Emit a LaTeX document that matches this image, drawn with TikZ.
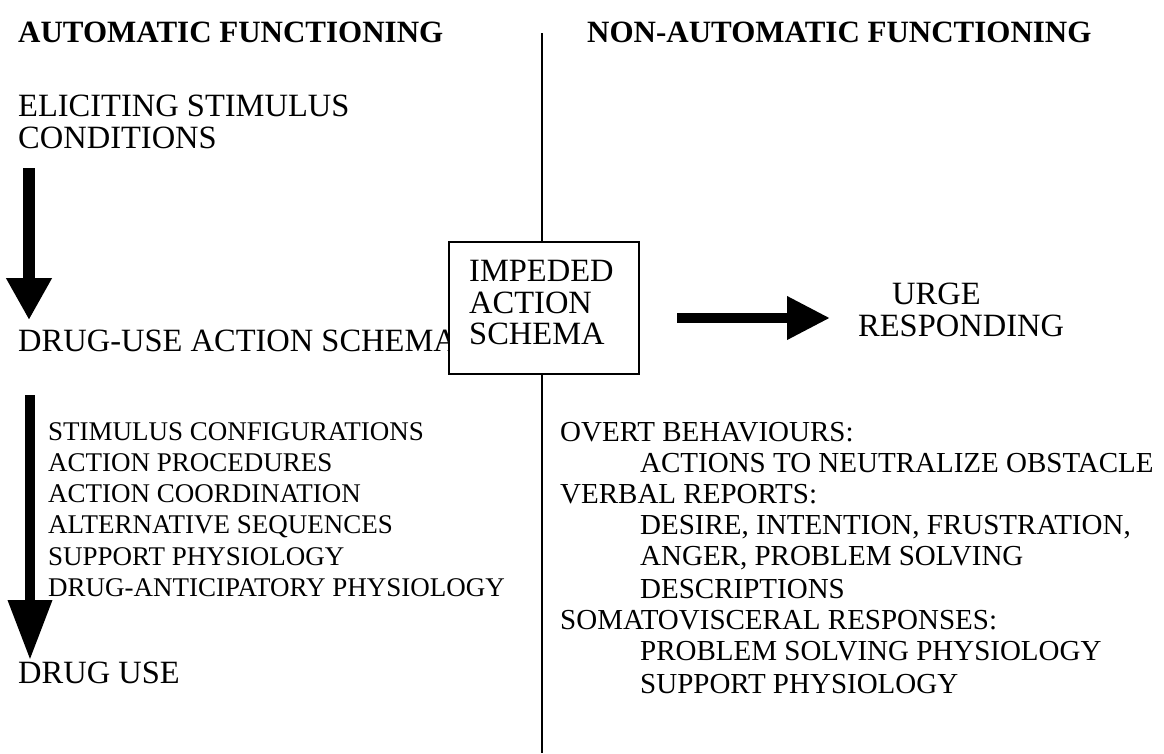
\documentclass[tikz,border=0pt]{standalone}
\usepackage{fontspec}
\setmainfont{Liberation Serif}
\usetikzlibrary{arrows.meta}
\tikzset{
  lbl/.style={inner sep=0pt, anchor=base west},
  hdr/.style={lbl, font=\fontsize{31}{35}\selectfont\bfseries},
  big/.style={lbl, font=\fontsize{32.5}{36}\selectfont},
  small/.style={lbl, font=\fontsize{27}{31}\selectfont},
  rsmall/.style={lbl, font=\fontsize{29}{31}\selectfont},
  divider/.style={line width=1.5pt, black},
  schemabox/.style={draw, line width=1.5pt, minimum width=190pt, minimum height=132pt, inner sep=0pt},
  fatdown/.style={line width=12pt, -{Triangle[length=42pt,width=43pt]}},
  fatdowntwo/.style={line width=10pt, -{Triangle[length=60pt,width=42pt]}},
  fatright/.style={line width=10pt, -{Triangle[length=43pt,width=41pt]}},
}
\begin{document}
\begin{tikzpicture}[x=1pt,y=-1pt]
\useasboundingbox (0,0) rectangle (1164,753);
% headers
\node[hdr] (hleft) at (18,42) {AUTOMATIC FUNCTIONING};
\node[hdr] (hright) at (587,42) {NON-AUTOMATIC FUNCTIONING};
% left column
\node[big] (elic1) at (18,116) {ELICITING STIMULUS};
\node[big] (elic2) at (18,148) {CONDITIONS};
\node[big] (dus) at (18,351) {DRUG-USE ACTION SCHEMA};
\node[big] (du) at (18,683) {DRUG USE};
\node[small] (l1) at (48,440) {STIMULUS CONFIGURATIONS};
\node[small] (l2) at (48,471) {ACTION PROCEDURES};
\node[small] (l3) at (48,502) {ACTION COORDINATION};
\node[small] (l4) at (48,533) {ALTERNATIVE SEQUENCES};
\node[small] (l5) at (48,565) {SUPPORT PHYSIOLOGY};
\node[small] (l6) at (48,596) {DRUG-ANTICIPATORY PHYSIOLOGY};
% box
\node[schemabox, fill=white] (box) at (544,308) {};
\node[big] (b1) at (469,281) {IMPEDED};
\node[big] (b2) at (469,313) {ACTION};
\node[big] (b3) at (469,344) {SCHEMA};
% divider
\coordinate (vtop) at (542,33);
\coordinate (vbot) at (542,753);
\draw[divider] (vtop) -- (vtop |- box.north);
\draw[divider] (vbot |- box.south) -- (vbot);
% urge
\node[big] (urge1) at (892,304) {URGE};
\node[big] (urge2) at (858,336) {RESPONDING};
% right list
\node[rsmall] (r1) at (560,441) {OVERT BEHAVIOURS:};
\node[rsmall] (r2) at (640,472) {ACTIONS TO NEUTRALIZE OBSTACLE};
\node[rsmall] (r3) at (560,503) {VERBAL REPORTS:};
\node[rsmall] (r4) at (640,534) {DESIRE, INTENTION, FRUSTRATION,};
\node[rsmall] (r5) at (640,565) {ANGER, PROBLEM SOLVING};
\node[rsmall] (r6) at (640,598) {DESCRIPTIONS};
\node[rsmall] (r7) at (560,629) {SOMATOVISCERAL RESPONSES:};
\node[rsmall] (r8) at (640,660) {PROBLEM SOLVING PHYSIOLOGY};
\node[rsmall] (r9) at (640,693) {SUPPORT PHYSIOLOGY};
% arrows
\coordinate (a1s) at (29,168);
\coordinate (a1e) at (29,320);
\draw[fatdown] (a1s) -- (a1e);
\coordinate (a2s) at (30,395);
\coordinate (a2e) at (30,660);
\draw[fatdowntwo] (a2s) -- (a2e);
\coordinate (a3s) at (677,318);
\coordinate (a3e) at (830,318);
\draw[fatright] (a3s) -- (a3e);
\end{tikzpicture}
\end{document}
